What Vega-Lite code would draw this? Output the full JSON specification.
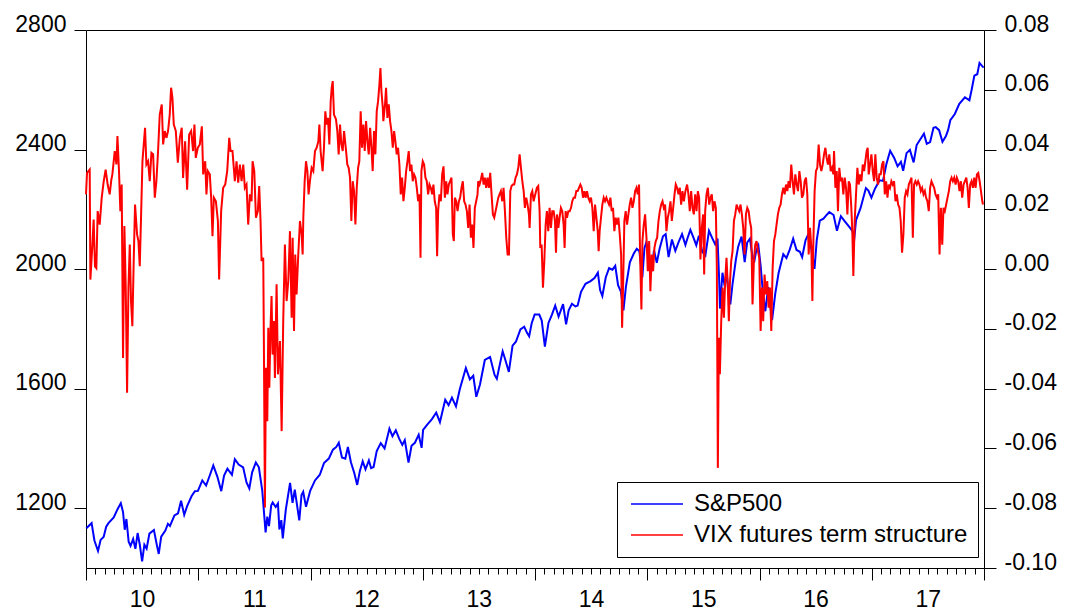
{
"$schema": "https://vega.github.io/schema/vega-lite/v6.json",
"width": 898, "height": 538,
"autosize": {"type": "none"},
"padding": {"left": 86, "top": 30, "right": 81, "bottom": 42},
"background": "white",
"datasets": {
"sp": [
{"t":2010.003,"v":1133},{"t":2010.05,"v":1150},{"t":2010.075,"v":1092},{"t":2010.107,"v":1057},{"t":2010.13,"v":1094},{"t":2010.157,"v":1104},{"t":2010.18,"v":1138},{"t":2010.2,"v":1150},{"t":2010.247,"v":1169},{"t":2010.28,"v":1196},{"t":2010.31,"v":1217},{"t":2010.33,"v":1187},{"t":2010.345,"v":1128},{"t":2010.36,"v":1164},{"t":2010.38,"v":1088},{"t":2010.397,"v":1074},{"t":2010.42,"v":1097},{"t":2010.44,"v":1064},{"t":2010.46,"v":1117},{"t":2010.48,"v":1076},{"t":2010.5,"v":1022},{"t":2010.52,"v":1078},{"t":2010.54,"v":1065},{"t":2010.565,"v":1115},{"t":2010.605,"v":1127},{"t":2010.63,"v":1079},{"t":2010.648,"v":1047},{"t":2010.67,"v":1105},{"t":2010.707,"v":1125},{"t":2010.73,"v":1148},{"t":2010.748,"v":1141},{"t":2010.788,"v":1176},{"t":2010.82,"v":1183},{"t":2010.847,"v":1225},{"t":2010.875,"v":1178},{"t":2010.9,"v":1206},{"t":2010.94,"v":1240},{"t":2010.97,"v":1257},{"t":2010.997,"v":1258},
{"t":2011.036,"v":1293},{"t":2011.07,"v":1276},{"t":2011.1,"v":1307},{"t":2011.134,"v":1343},{"t":2011.17,"v":1306},{"t":2011.205,"v":1257},{"t":2011.23,"v":1309},{"t":2011.26,"v":1332},{"t":2011.3,"v":1312},{"t":2011.326,"v":1364},{"t":2011.36,"v":1346},{"t":2011.4,"v":1337},{"t":2011.43,"v":1286},{"t":2011.455,"v":1266},{"t":2011.48,"v":1320},{"t":2011.513,"v":1353},{"t":2011.54,"v":1337},{"t":2011.57,"v":1260},{"t":2011.6,"v":1119},{"t":2011.615,"v":1172},{"t":2011.63,"v":1140},{"t":2011.65,"v":1210},{"t":2011.663,"v":1219},{"t":2011.69,"v":1204},{"t":2011.71,"v":1216},{"t":2011.723,"v":1129},{"t":2011.74,"v":1160},{"t":2011.753,"v":1099},{"t":2011.78,"v":1195},{"t":2011.818,"v":1285},{"t":2011.84,"v":1218},{"t":2011.86,"v":1262},{"t":2011.9,"v":1159},{"t":2011.92,"v":1244},{"t":2011.935,"v":1255},{"t":2011.96,"v":1205},{"t":2011.997,"v":1258},
{"t":2012.04,"v":1293},{"t":2012.083,"v":1312},{"t":2012.12,"v":1351},{"t":2012.163,"v":1366},{"t":2012.2,"v":1396},{"t":2012.23,"v":1405},{"t":2012.252,"v":1419},{"t":2012.28,"v":1370},{"t":2012.31,"v":1366},{"t":2012.333,"v":1405},{"t":2012.36,"v":1354},{"t":2012.39,"v":1318},{"t":2012.416,"v":1278},{"t":2012.44,"v":1325},{"t":2012.465,"v":1357},{"t":2012.49,"v":1330},{"t":2012.52,"v":1360},{"t":2012.54,"v":1334},{"t":2012.562,"v":1338},{"t":2012.59,"v":1391},{"t":2012.626,"v":1418},{"t":2012.66,"v":1400},{"t":2012.703,"v":1466},{"t":2012.73,"v":1441},{"t":2012.76,"v":1461},{"t":2012.79,"v":1433},{"t":2012.818,"v":1412},{"t":2012.84,"v":1428},{"t":2012.873,"v":1353},{"t":2012.9,"v":1409},{"t":2012.93,"v":1419},{"t":2012.964,"v":1446},{"t":2012.99,"v":1402},
{"t":2013.003,"v":1462},{"t":2013.04,"v":1480},{"t":2013.082,"v":1498},{"t":2013.12,"v":1520},{"t":2013.153,"v":1488},{"t":2013.2,"v":1563},{"t":2013.23,"v":1545},{"t":2013.26,"v":1570},{"t":2013.296,"v":1541},{"t":2013.33,"v":1598},{"t":2013.384,"v":1669},{"t":2013.42,"v":1631},{"t":2013.45,"v":1643},{"t":2013.477,"v":1573},{"t":2013.51,"v":1614},{"t":2013.553,"v":1696},{"t":2013.6,"v":1706},{"t":2013.64,"v":1646},{"t":2013.66,"v":1633},{"t":2013.69,"v":1687},{"t":2013.712,"v":1725},{"t":2013.74,"v":1691},{"t":2013.767,"v":1656},{"t":2013.8,"v":1744},{"t":2013.83,"v":1757},{"t":2013.87,"v":1798},{"t":2013.904,"v":1807},{"t":2013.93,"v":1786},{"t":2013.948,"v":1775},{"t":2013.97,"v":1818},{"t":2013.997,"v":1848},
{"t":2014.038,"v":1848},{"t":2014.06,"v":1828},{"t":2014.088,"v":1741},{"t":2014.12,"v":1820},{"t":2014.15,"v":1847},{"t":2014.18,"v":1878},{"t":2014.21,"v":1841},{"t":2014.25,"v":1883},{"t":2014.277,"v":1815},{"t":2014.3,"v":1862},{"t":2014.329,"v":1884},{"t":2014.36,"v":1875},{"t":2014.38,"v":1878},{"t":2014.41,"v":1924},{"t":2014.45,"v":1951},{"t":2014.495,"v":1960},{"t":2014.53,"v":1970},{"t":2014.56,"v":1988},{"t":2014.58,"v":1930},{"t":2014.6,"v":1910},{"t":2014.63,"v":1972},{"t":2014.66,"v":2003},{"t":2014.69,"v":1998},{"t":2014.715,"v":2011},{"t":2014.74,"v":1946},{"t":2014.765,"v":1925},{"t":2014.788,"v":1862},{"t":2014.81,"v":1941},{"t":2014.845,"v":2023},{"t":2014.88,"v":2052},{"t":2014.907,"v":2068},{"t":2014.93,"v":2060},{"t":2014.956,"v":1972},{"t":2014.975,"v":2070},{"t":2014.992,"v":2090},
{"t":2015.01,"v":2058},{"t":2015.038,"v":1992},{"t":2015.06,"v":2063},{"t":2015.085,"v":2021},{"t":2015.11,"v":2068},{"t":2015.14,"v":2110},{"t":2015.164,"v":2117},{"t":2015.19,"v":2040},{"t":2015.22,"v":2099},{"t":2015.25,"v":2061},{"t":2015.28,"v":2091},{"t":2015.31,"v":2117},{"t":2015.34,"v":2081},{"t":2015.36,"v":2105},{"t":2015.384,"v":2131},{"t":2015.41,"v":2107},{"t":2015.437,"v":2080},{"t":2015.46,"v":2112},{"t":2015.49,"v":2058},{"t":2015.518,"v":2046},{"t":2015.55,"v":2128},{"t":2015.58,"v":2103},{"t":2015.605,"v":2083},{"t":2015.626,"v":2102},{"t":2015.64,"v":1971},{"t":2015.648,"v":1868},{"t":2015.67,"v":1988},{"t":2015.69,"v":1942},{"t":2015.707,"v":1996},{"t":2015.72,"v":1932},{"t":2015.74,"v":1882},{"t":2015.76,"v":1951},{"t":2015.79,"v":2033},{"t":2015.81,"v":2075},{"t":2015.84,"v":2109},{"t":2015.868,"v":2023},{"t":2015.89,"v":2089},{"t":2015.915,"v":2102},{"t":2015.935,"v":2047},{"t":2015.952,"v":2022},{"t":2015.97,"v":2060},{"t":2015.99,"v":2078},
{"t":2016.01,"v":2012},{"t":2016.03,"v":1922},{"t":2016.052,"v":1859},{"t":2016.077,"v":1940},{"t":2016.095,"v":1880},{"t":2016.112,"v":1829},{"t":2016.14,"v":1917},{"t":2016.17,"v":1987},{"t":2016.212,"v":2050},{"t":2016.24,"v":2037},{"t":2016.27,"v":2066},{"t":2016.3,"v":2102},{"t":2016.33,"v":2064},{"t":2016.36,"v":2058},{"t":2016.38,"v":2040},{"t":2016.41,"v":2096},{"t":2016.438,"v":2119},{"t":2016.46,"v":2071},{"t":2016.475,"v":2037},{"t":2016.49,"v":2001},{"t":2016.51,"v":2097},{"t":2016.537,"v":2162},{"t":2016.57,"v":2169},{"t":2016.6,"v":2182},{"t":2016.622,"v":2191},{"t":2016.66,"v":2181},{"t":2016.69,"v":2128},{"t":2016.725,"v":2177},{"t":2016.76,"v":2160},{"t":2016.8,"v":2141},{"t":2016.83,"v":2126},{"t":2016.84,"v":2085},{"t":2016.86,"v":2164},{"t":2016.9,"v":2204},{"t":2016.948,"v":2271},{"t":2016.97,"v":2263},{"t":2016.997,"v":2239},
{"t":2017.03,"v":2270},{"t":2017.07,"v":2297},{"t":2017.1,"v":2295},{"t":2017.13,"v":2351},{"t":2017.164,"v":2396},{"t":2017.2,"v":2372},{"t":2017.23,"v":2344},{"t":2017.26,"v":2359},{"t":2017.28,"v":2329},{"t":2017.31,"v":2388},{"t":2017.34,"v":2399},{"t":2017.373,"v":2357},{"t":2017.4,"v":2415},{"t":2017.43,"v":2433},{"t":2017.465,"v":2453},{"t":2017.49,"v":2419},{"t":2017.52,"v":2425},{"t":2017.55,"v":2473},{"t":2017.57,"v":2475},{"t":2017.6,"v":2465},{"t":2017.63,"v":2426},{"t":2017.66,"v":2444},{"t":2017.68,"v":2465},{"t":2017.7,"v":2498},{"t":2017.74,"v":2519},{"t":2017.78,"v":2553},{"t":2017.83,"v":2575},{"t":2017.87,"v":2565},{"t":2017.89,"v":2600},{"t":2017.914,"v":2647},{"t":2017.94,"v":2652},{"t":2017.96,"v":2690},{"t":2017.98,"v":2681},{"t":2017.997,"v":2674}
],
"vix": [
{"t":2010.000,"v":0.0250},{"t":2010.009,"v":0.0322},{"t":2010.033,"v":0.0333},{"t":2010.039,"v":-0.0035},{"t":2010.057,"v":0.0082},{"t":2010.068,"v":0.0166},{"t":2010.080,"v":0.0009},{"t":2010.092,"v":0.0003},{"t":2010.104,"v":0.0194},{"t":2010.122,"v":0.0149},{"t":2010.140,"v":0.0239},{"t":2010.158,"v":0.0294},{"t":2010.175,"v":0.0333},{"t":2010.193,"v":0.0283},{"t":2010.211,"v":0.0250},{"t":2010.226,"v":0.0300},{"t":2010.235,"v":0.0317},{"t":2010.256,"v":0.0395},{"t":2010.271,"v":0.0350},{"t":2010.280,"v":0.0445},{"t":2010.294,"v":0.0328},{"t":2010.306,"v":0.0194},{"t":2010.318,"v":0.0283},{"t":2010.330,"v":-0.0297},{"t":2010.342,"v":0.0144},{"t":2010.354,"v":-0.0062},{"t":2010.366,"v":-0.0414},{"t":2010.378,"v":-0.0062},{"t":2010.390,"v":0.0082},{"t":2010.401,"v":-0.0107},{"t":2010.413,"v":-0.0191},{"t":2010.425,"v":0.0027},{"t":2010.437,"v":0.0216},{"t":2010.455,"v":0.0116},{"t":2010.467,"v":0.0094},{"t":2010.479,"v":0.0010},{"t":2010.491,"v":0.0183},{"t":2010.503,"v":0.0361},{"t":2010.526,"v":0.0473},{"t":2010.538,"v":0.0350},{"t":2010.553,"v":0.0361},{"t":2010.568,"v":0.0294},{"t":2010.583,"v":0.0389},{"t":2010.598,"v":0.0384},{"t":2010.613,"v":0.0239},{"t":2010.627,"v":0.0294},{"t":2010.642,"v":0.0395},{"t":2010.657,"v":0.0517},{"t":2010.675,"v":0.0551},{"t":2010.687,"v":0.0417},{"t":2010.702,"v":0.0462},{"t":2010.717,"v":0.0439},{"t":2010.731,"v":0.0462},{"t":2010.746,"v":0.0517},{"t":2010.758,"v":0.0607},{"t":2010.770,"v":0.0573},{"t":2010.782,"v":0.0484},{"t":2010.800,"v":0.0462},{"t":2010.818,"v":0.0356},{"t":2010.836,"v":0.0439},{"t":2010.853,"v":0.0473},{"t":2010.865,"v":0.0305},{"t":2010.883,"v":0.0428},{"t":2010.901,"v":0.0266},{"t":2010.919,"v":0.0450},{"t":2010.937,"v":0.0462},{"t":2010.954,"v":0.0395},{"t":2010.966,"v":0.0484},{"t":2010.978,"v":0.0372},{"t":2010.996,"v":0.0406},
{"t":2011.014,"v":0.0417},{"t":2011.032,"v":0.0478},{"t":2011.044,"v":0.0317},{"t":2011.062,"v":0.0361},{"t":2011.073,"v":0.0250},{"t":2011.085,"v":0.0328},{"t":2011.103,"v":0.0317},{"t":2011.115,"v":0.0239},{"t":2011.127,"v":0.0110},{"t":2011.139,"v":0.0239},{"t":2011.157,"v":0.0227},{"t":2011.175,"v":0.0161},{"t":2011.186,"v":-0.0035},{"t":2011.204,"v":0.0194},{"t":2011.222,"v":0.0272},{"t":2011.240,"v":0.0283},{"t":2011.258,"v":0.0328},{"t":2011.276,"v":0.0439},{"t":2011.288,"v":0.0395},{"t":2011.305,"v":0.0395},
{"t":2011.326,"v":0.0294},{"t":2011.341,"v":0.0361},{"t":2011.356,"v":0.0289},{"t":2011.371,"v":0.0350},{"t":2011.386,"v":0.0294},{"t":2011.401,"v":0.0350},{"t":2011.415,"v":0.0272},{"t":2011.430,"v":0.0283},{"t":2011.445,"v":0.0149},{"t":2011.460,"v":0.0250},{"t":2011.475,"v":0.0227},{"t":2011.484,"v":0.0361},{"t":2011.499,"v":0.0328},{"t":2011.514,"v":0.0172},{"t":2011.531,"v":0.0194},{"t":2011.543,"v":0.0278},{"t":2011.555,"v":0.0161},{"t":2011.564,"v":0.0027},{"t":2011.579,"v":0.0038},{"t":2011.585,"v":-0.0263},{"t":2011.594,"v":-0.0798},{"t":2011.603,"v":-0.0330},{"t":2011.615,"v":-0.0509},{"t":2011.624,"v":-0.0196},{"t":2011.633,"v":-0.0397},{"t":2011.644,"v":-0.0196},{"t":2011.653,"v":-0.0090},{"t":2011.662,"v":-0.0286},{"t":2011.674,"v":-0.0174},{"t":2011.683,"v":-0.0364},{"t":2011.698,"v":-0.0051},{"t":2011.710,"v":-0.0352},{"t":2011.728,"v":-0.0241},{"t":2011.743,"v":-0.0542},{"t":2011.757,"v":-0.0174},{"t":2011.772,"v":0.0082},{"t":2011.787,"v":-0.0107},{"t":2011.802,"v":-0.0040},{"t":2011.817,"v":0.0127},{"t":2011.832,"v":-0.0163},{"t":2011.841,"v":0.0105},{"t":2011.853,"v":-0.0207},{"t":2011.864,"v":0.0049},{"t":2011.876,"v":-0.0085},{"t":2011.891,"v":0.0049},{"t":2011.906,"v":0.0161},{"t":2011.921,"v":0.0116},{"t":2011.930,"v":0.0049},{"t":2011.936,"v":0.0172},{"t":2011.948,"v":0.0294},{"t":2011.960,"v":0.0361},{"t":2011.972,"v":0.0328},{"t":2011.983,"v":0.0250},{"t":2011.995,"v":0.0294},
{"t":2012.010,"v":0.0339},{"t":2012.025,"v":0.0328},{"t":2012.040,"v":0.0395},{"t":2012.055,"v":0.0406},{"t":2012.070,"v":0.0428},{"t":2012.079,"v":0.0484},{"t":2012.090,"v":0.0395},{"t":2012.108,"v":0.0328},{"t":2012.120,"v":0.0406},{"t":2012.132,"v":0.0528},{"t":2012.144,"v":0.0484},{"t":2012.156,"v":0.0506},{"t":2012.168,"v":0.0417},{"t":2012.180,"v":0.0562},{"t":2012.189,"v":0.0607},{"t":2012.198,"v":0.0629},{"t":2012.209,"v":0.0517},{"t":2012.227,"v":0.0501},{"t":2012.239,"v":0.0462},{"t":2012.251,"v":0.0384},{"t":2012.263,"v":0.0484},{"t":2012.275,"v":0.0417},{"t":2012.287,"v":0.0395},{"t":2012.299,"v":0.0462},{"t":2012.317,"v":0.0395},{"t":2012.328,"v":0.0350},{"t":2012.340,"v":0.0339},{"t":2012.352,"v":0.0306},{"t":2012.364,"v":0.0161},{"t":2012.376,"v":0.0294},{"t":2012.388,"v":0.0261},{"t":2012.400,"v":0.0149},{"t":2012.412,"v":0.0272},{"t":2012.424,"v":0.0339},{"t":2012.435,"v":0.0361},{"t":2012.447,"v":0.0528},{"t":2012.459,"v":0.0406},{"t":2012.471,"v":0.0484},{"t":2012.483,"v":0.0395},{"t":2012.495,"v":0.0495},{"t":2012.507,"v":0.0428},{"t":2012.519,"v":0.0384},{"t":2012.531,"v":0.0473},{"t":2012.543,"v":0.0406},{"t":2012.554,"v":0.0328},{"t":2012.566,"v":0.0462},{"t":2012.578,"v":0.0384},{"t":2012.590,"v":0.0528},{"t":2012.602,"v":0.0562},{"t":2012.614,"v":0.0618},{"t":2012.623,"v":0.0673},{"t":2012.632,"v":0.0595},{"t":2012.644,"v":0.0540},
{"t":2012.649,"v":0.0495},{"t":2012.664,"v":0.0551},{"t":2012.673,"v":0.0607},{"t":2012.685,"v":0.0506},{"t":2012.697,"v":0.0551},{"t":2012.709,"v":0.0495},{"t":2012.721,"v":0.0462},{"t":2012.733,"v":0.0406},{"t":2012.745,"v":0.0462},{"t":2012.756,"v":0.0428},{"t":2012.768,"v":0.0384},{"t":2012.780,"v":0.0406},{"t":2012.792,"v":0.0350},{"t":2012.804,"v":0.0250},{"t":2012.816,"v":0.0306},{"t":2012.828,"v":0.0227},{"t":2012.840,"v":0.0272},{"t":2012.852,"v":0.0328},{"t":2012.864,"v":0.0361},{"t":2012.875,"v":0.0395},{"t":2012.887,"v":0.0328},{"t":2012.899,"v":0.0350},{"t":2012.911,"v":0.0294},{"t":2012.923,"v":0.0317},{"t":2012.935,"v":0.0306},{"t":2012.947,"v":0.0272},{"t":2012.959,"v":0.0227},{"t":2012.971,"v":0.0250},{"t":2012.980,"v":0.0038},{"t":2012.988,"v":0.0328},
{"t":2013.000,"v":0.0361},{"t":2013.012,"v":0.0350},{"t":2013.024,"v":0.0306},{"t":2013.036,"v":0.0294},{"t":2013.048,"v":0.0250},{"t":2013.060,"v":0.0283},{"t":2013.072,"v":0.0272},{"t":2013.084,"v":0.0250},{"t":2013.095,"v":0.0283},{"t":2013.107,"v":0.0227},{"t":2013.119,"v":0.0205},{"t":2013.128,"v":0.0043},{"t":2013.137,"v":0.0194},{"t":2013.149,"v":0.0250},{"t":2013.161,"v":0.0227},{"t":2013.173,"v":0.0317},{"t":2013.185,"v":0.0344},{"t":2013.197,"v":0.0239},{"t":2013.209,"v":0.0294},{"t":2013.220,"v":0.0250},{"t":2013.232,"v":0.0283},{"t":2013.244,"v":0.0294},{"t":2013.256,"v":0.0306},{"t":2013.268,"v":0.0116},{"t":2013.277,"v":0.0094},{"t":2013.286,"v":0.0239},{"t":2013.298,"v":0.0227},{"t":2013.310,"v":0.0194},{"t":2013.322,"v":0.0227},{"t":2013.333,"v":0.0239},{"t":2013.345,"v":0.0272},{"t":2013.357,"v":0.0294},{"t":2013.369,"v":0.0227},{"t":2013.381,"v":0.0216},{"t":2013.393,"v":0.0194},{"t":2013.405,"v":0.0138},{"t":2013.417,"v":0.0216},{"t":2013.429,"v":0.0105},{"t":2013.440,"v":0.0149},{"t":2013.452,"v":0.0071},{"t":2013.464,"v":0.0205},{"t":2013.476,"v":0.0227},{"t":2013.488,"v":0.0250},{"t":2013.494,"v":0.0294},{"t":2013.506,"v":0.0283},{"t":2013.518,"v":0.0300},{"t":2013.530,"v":0.0322},{"t":2013.542,"v":0.0283},{"t":2013.553,"v":0.0306},{"t":2013.565,"v":0.0272},{"t":2013.577,"v":0.0306},{"t":2013.589,"v":0.0272},{"t":2013.601,"v":0.0322},{"t":2013.613,"v":0.0250},{"t":2013.625,"v":0.0183},{"t":2013.637,"v":0.0172},{"t":2013.649,"v":0.0194},{"t":2013.661,"v":0.0216},{"t":2013.673,"v":0.0239},{"t":2013.684,"v":0.0250},{"t":2013.696,"v":0.0261},{"t":2013.708,"v":0.0227},{"t":2013.720,"v":0.0272},{"t":2013.732,"v":0.0194},{"t":2013.744,"v":0.0105},{"t":2013.756,"v":0.0049},{"t":2013.768,"v":0.0049},{"t":2013.780,"v":0.0261},{"t":2013.791,"v":0.0278},{"t":2013.803,"v":0.0283},{"t":2013.815,"v":0.0283},{"t":2013.827,"v":0.0306},{"t":2013.839,"v":0.0317},{"t":2013.851,"v":0.0339},{"t":2013.863,"v":0.0384},{"t":2013.875,"v":0.0339},{"t":2013.887,"v":0.0294},{"t":2013.899,"v":0.0261},{"t":2013.910,"v":0.0205},{"t":2013.922,"v":0.0239},{"t":2013.934,"v":0.0216},{"t":2013.946,"v":0.0183},{"t":2013.952,"v":0.0138},{"t":2013.964,"v":0.0250},{"t":2013.976,"v":0.0261},{"t":2013.988,"v":0.0227},
{"t":2014.002,"v":0.0250},{"t":2014.017,"v":0.0272},{"t":2014.029,"v":0.0278},{"t":2014.041,"v":0.0194},{"t":2014.047,"v":0.0071},{"t":2014.059,"v":0.0082},{"t":2014.071,"v":-0.0062},{"t":2014.083,"v":0.0027},{"t":2014.095,"v":0.0149},{"t":2014.106,"v":0.0194},{"t":2014.118,"v":0.0127},{"t":2014.130,"v":0.0205},{"t":2014.142,"v":0.0138},{"t":2014.154,"v":0.0194},{"t":2014.166,"v":0.0194},{"t":2014.178,"v":0.0161},{"t":2014.187,"v":0.0055},{"t":2014.196,"v":0.0183},{"t":2014.208,"v":0.0138},{"t":2014.219,"v":0.0172},{"t":2014.231,"v":0.0205},{"t":2014.243,"v":0.0194},{"t":2014.255,"v":0.0149},{"t":2014.264,"v":0.0071},{"t":2014.273,"v":0.0194},{"t":2014.285,"v":0.0172},{"t":2014.297,"v":0.0194},{"t":2014.309,"v":0.0194},{"t":2014.321,"v":0.0205},{"t":2014.332,"v":0.0227},{"t":2014.344,"v":0.0239},{"t":2014.356,"v":0.0239},{"t":2014.368,"v":0.0261},{"t":2014.380,"v":0.0261},{"t":2014.392,"v":0.0272},{"t":2014.404,"v":0.0283},{"t":2014.416,"v":0.0272},{"t":2014.428,"v":0.0239},{"t":2014.440,"v":0.0261},{"t":2014.451,"v":0.0239},{"t":2014.463,"v":0.0261},{"t":2014.475,"v":0.0239},{"t":2014.487,"v":0.0227},{"t":2014.499,"v":0.0239},{"t":2014.511,"v":0.0205},{"t":2014.523,"v":0.0127},{"t":2014.535,"v":0.0216},{"t":2014.547,"v":0.0172},{"t":2014.559,"v":0.0127},{"t":2014.567,"v":0.0060},{"t":2014.576,"v":0.0127},{"t":2014.588,"v":0.0172},{"t":2014.600,"v":0.0216},{"t":2014.612,"v":0.0239},{"t":2014.624,"v":0.0227},{"t":2014.636,"v":0.0239},{"t":2014.648,"v":0.0227},{"t":2014.660,"v":0.0216},{"t":2014.672,"v":0.0239},{"t":2014.683,"v":0.0194},{"t":2014.695,"v":0.0205},{"t":2014.707,"v":0.0127},{"t":2014.719,"v":0.0172},{"t":2014.731,"v":0.0149},{"t":2014.743,"v":0.0172},{"t":2014.755,"v":0.0116},{"t":2014.767,"v":0.0049},{"t":2014.776,"v":-0.0196},{"t":2014.785,"v":-0.0051},{"t":2014.796,"v":0.0161},{"t":2014.808,"v":0.0194},{"t":2014.820,"v":0.0149},{"t":2014.832,"v":0.0183},{"t":2014.844,"v":0.0216},{"t":2014.856,"v":0.0239},{"t":2014.868,"v":0.0205},{"t":2014.880,"v":0.0227},{"t":2014.892,"v":0.0261},{"t":2014.904,"v":0.0272},{"t":2014.915,"v":0.0250},{"t":2014.927,"v":0.0283},{"t":2014.936,"v":0.0049},{"t":2014.948,"v":-0.0135},{"t":2014.957,"v":0.0094},{"t":2014.969,"v":0.0149},{"t":2014.981,"v":0.0183},{"t":2014.993,"v":0.0105},
{"t":2015.005,"v":-0.0007},{"t":2015.017,"v":0.0094},{"t":2015.028,"v":-0.0074},{"t":2015.040,"v":0.0049},{"t":2015.052,"v":-0.0007},{"t":2015.064,"v":0.0071},{"t":2015.076,"v":0.0094},{"t":2015.088,"v":0.0105},{"t":2015.100,"v":0.0161},{"t":2015.112,"v":0.0194},{"t":2015.124,"v":0.0216},{"t":2015.136,"v":0.0227},{"t":2015.147,"v":0.0205},{"t":2015.159,"v":0.0216},{"t":2015.171,"v":0.0127},{"t":2015.183,"v":0.0172},{"t":2015.195,"v":0.0194},{"t":2015.207,"v":0.0227},{"t":2015.219,"v":0.0161},{"t":2015.231,"v":0.0205},{"t":2015.243,"v":0.0250},{"t":2015.254,"v":0.0283},{"t":2015.266,"v":0.0272},{"t":2015.278,"v":0.0250},{"t":2015.290,"v":0.0272},{"t":2015.302,"v":0.0216},{"t":2015.314,"v":0.0261},
{"t":2015.326,"v":0.0227},{"t":2015.340,"v":0.0261},{"t":2015.355,"v":0.0283},{"t":2015.367,"v":0.0250},{"t":2015.379,"v":0.0194},{"t":2015.391,"v":0.0261},{"t":2015.403,"v":0.0205},{"t":2015.415,"v":0.0183},{"t":2015.427,"v":0.0250},{"t":2015.439,"v":0.0194},{"t":2015.451,"v":0.0261},{"t":2015.462,"v":0.0239},{"t":2015.474,"v":0.0032},{"t":2015.486,"v":0.0138},{"t":2015.498,"v":0.0183},{"t":2015.507,"v":-0.0018},{"t":2015.516,"v":0.0194},{"t":2015.528,"v":0.0250},{"t":2015.540,"v":0.0272},{"t":2015.552,"v":0.0216},{"t":2015.564,"v":0.0239},{"t":2015.575,"v":0.0250},{"t":2015.587,"v":0.0194},{"t":2015.599,"v":0.0227},{"t":2015.611,"v":0.0205},{"t":2015.620,"v":0.0004},{"t":2015.629,"v":-0.0665},{"t":2015.638,"v":-0.0230},{"t":2015.647,"v":-0.0352},{"t":2015.659,"v":-0.0174},{"t":2015.671,"v":-0.0062},{"t":2015.683,"v":-0.0163},{"t":2015.694,"v":-0.0040},{"t":2015.706,"v":0.0038},{"t":2015.718,"v":-0.0062},{"t":2015.727,"v":-0.0174},{"t":2015.736,"v":-0.0051},{"t":2015.748,"v":0.0027},{"t":2015.760,"v":0.0060},{"t":2015.772,"v":0.0161},{"t":2015.784,"v":0.0183},{"t":2015.796,"v":0.0216},{"t":2015.807,"v":0.0205},{"t":2015.819,"v":0.0194},{"t":2015.831,"v":0.0216},{"t":2015.843,"v":0.0183},{"t":2015.855,"v":0.0138},{"t":2015.867,"v":0.0049},{"t":2015.879,"v":0.0183},{"t":2015.891,"v":0.0205},{"t":2015.903,"v":0.0194},{"t":2015.914,"v":0.0161},{"t":2015.926,"v":0.0138},{"t":2015.938,"v":-0.0118},{"t":2015.950,"v":0.0027},{"t":2015.962,"v":0.0082},{"t":2015.974,"v":0.0094},{"t":2015.986,"v":0.0060},{"t":2015.998,"v":0.0038},
{"t":2016.010,"v":-0.0207},{"t":2016.022,"v":-0.0062},{"t":2016.033,"v":-0.0174},{"t":2016.045,"v":-0.0018},{"t":2016.057,"v":-0.0085},{"t":2016.069,"v":-0.0040},{"t":2016.081,"v":-0.0129},{"t":2016.093,"v":-0.0062},{"t":2016.105,"v":-0.0207},{"t":2016.117,"v":0.0004},{"t":2016.129,"v":0.0094},{"t":2016.141,"v":0.0116},{"t":2016.152,"v":0.0149},{"t":2016.164,"v":0.0183},{"t":2016.176,"v":0.0205},{"t":2016.188,"v":0.0216},{"t":2016.200,"v":0.0250},{"t":2016.212,"v":0.0272},{"t":2016.224,"v":0.0250},{"t":2016.236,"v":0.0283},{"t":2016.248,"v":0.0261},{"t":2016.259,"v":0.0294},{"t":2016.271,"v":0.0272},{"t":2016.283,"v":0.0350},{"t":2016.295,"v":0.0294},{"t":2016.307,"v":0.0250},{"t":2016.319,"v":0.0317},{"t":2016.331,"v":0.0283},{"t":2016.343,"v":0.0261},{"t":2016.355,"v":0.0328},{"t":2016.367,"v":0.0294},{"t":2016.378,"v":0.0239},{"t":2016.390,"v":0.0250},{"t":2016.402,"v":0.0294},{"t":2016.414,"v":0.0306},{"t":2016.426,"v":0.0250},{"t":2016.438,"v":0.0049},{"t":2016.450,"v":0.0138},{"t":2016.462,"v":0.0071},{"t":2016.471,"v":-0.0107},{"t":2016.480,"v":0.0094},{"t":2016.491,"v":0.0261},{"t":2016.503,"v":0.0328},{"t":2016.515,"v":0.0339},{"t":2016.527,"v":0.0417},{"t":2016.539,"v":0.0350},{"t":2016.551,"v":0.0328},{"t":2016.563,"v":0.0350},{"t":2016.575,"v":0.0384},{"t":2016.587,"v":0.0406},{"t":2016.598,"v":0.0372},{"t":2016.610,"v":0.0350},{"t":2016.622,"v":0.0384},{"t":2016.634,"v":0.0328},{"t":2016.646,"v":0.0339},{"t":2016.658,"v":0.0317},
{"t":2016.664,"v":0.0395},{"t":2016.676,"v":0.0272},{"t":2016.688,"v":0.0328},{"t":2016.699,"v":0.0194},{"t":2016.711,"v":0.0339},{"t":2016.723,"v":0.0294},{"t":2016.735,"v":0.0306},{"t":2016.747,"v":0.0250},{"t":2016.759,"v":0.0306},{"t":2016.771,"v":0.0272},{"t":2016.783,"v":0.0183},{"t":2016.795,"v":0.0294},{"t":2016.806,"v":0.0283},{"t":2016.818,"v":0.0205},{"t":2016.827,"v":0.0127},{"t":2016.836,"v":-0.0023},{"t":2016.848,"v":0.0161},{"t":2016.860,"v":0.0250},{"t":2016.872,"v":0.0339},{"t":2016.884,"v":0.0283},{"t":2016.896,"v":0.0317},{"t":2016.908,"v":0.0294},{"t":2016.920,"v":0.0350},{"t":2016.932,"v":0.0328},{"t":2016.943,"v":0.0361},{"t":2016.955,"v":0.0395},{"t":2016.964,"v":0.0406},{"t":2016.973,"v":0.0317},{"t":2016.985,"v":0.0350},{"t":2016.997,"v":0.0384},
{"t":2017.009,"v":0.0328},{"t":2017.021,"v":0.0294},{"t":2017.032,"v":0.0384},{"t":2017.044,"v":0.0306},{"t":2017.056,"v":0.0283},{"t":2017.068,"v":0.0317},{"t":2017.080,"v":0.0317},{"t":2017.092,"v":0.0350},{"t":2017.104,"v":0.0361},{"t":2017.116,"v":0.0250},{"t":2017.128,"v":0.0294},{"t":2017.140,"v":0.0239},{"t":2017.151,"v":0.0283},{"t":2017.163,"v":0.0272},{"t":2017.175,"v":0.0294},{"t":2017.187,"v":0.0283},{"t":2017.199,"v":0.0294},{"t":2017.211,"v":0.0227},{"t":2017.223,"v":0.0250},{"t":2017.235,"v":0.0216},{"t":2017.247,"v":0.0205},{"t":2017.258,"v":0.0161},{"t":2017.270,"v":0.0055},{"t":2017.282,"v":0.0116},{"t":2017.294,"v":0.0239},{"t":2017.306,"v":0.0261},{"t":2017.318,"v":0.0250},{"t":2017.330,"v":0.0283},{"t":2017.342,"v":0.0294},{"t":2017.354,"v":0.0306},{"t":2017.366,"v":0.0105},{"t":2017.377,"v":0.0283},{"t":2017.389,"v":0.0294},{"t":2017.401,"v":0.0283},{"t":2017.413,"v":0.0294},{"t":2017.425,"v":0.0283},{"t":2017.437,"v":0.0261},{"t":2017.449,"v":0.0272},{"t":2017.461,"v":0.0250},{"t":2017.473,"v":0.0261},{"t":2017.484,"v":0.0239},{"t":2017.496,"v":0.0227},{"t":2017.508,"v":0.0194},{"t":2017.520,"v":0.0272},{"t":2017.532,"v":0.0294},{"t":2017.544,"v":0.0283},{"t":2017.556,"v":0.0272},{"t":2017.568,"v":0.0250},{"t":2017.580,"v":0.0239},{"t":2017.592,"v":0.0250},{"t":2017.604,"v":0.0049},{"t":2017.616,"v":0.0205},{"t":2017.628,"v":0.0082},{"t":2017.639,"v":0.0205},{"t":2017.651,"v":0.0194},{"t":2017.663,"v":0.0216},{"t":2017.675,"v":0.0239},{"t":2017.687,"v":0.0261},{"t":2017.699,"v":0.0294},{"t":2017.711,"v":0.0306},{"t":2017.723,"v":0.0294},{"t":2017.735,"v":0.0306},{"t":2017.747,"v":0.0283},{"t":2017.758,"v":0.0306},{"t":2017.770,"v":0.0294},{"t":2017.782,"v":0.0261},{"t":2017.794,"v":0.0294},{"t":2017.806,"v":0.0239},{"t":2017.818,"v":0.0283},{"t":2017.830,"v":0.0294},{"t":2017.842,"v":0.0306},{"t":2017.854,"v":0.0272},{"t":2017.865,"v":0.0205},{"t":2017.877,"v":0.0283},{"t":2017.889,"v":0.0294},{"t":2017.901,"v":0.0272},{"t":2017.913,"v":0.0306},{"t":2017.925,"v":0.0272},{"t":2017.937,"v":0.0317},{"t":2017.949,"v":0.0322},{"t":2017.961,"v":0.0294},{"t":2017.973,"v":0.0261},{"t":2017.985,"v":0.0227},{"t":2017.991,"v":0.0216}
]
},
"layer": [
{
"data": {"name": "sp"},
"mark": {"type": "line", "strokeWidth": 2},
"encoding": {
"x": {"field": "t", "type": "quantitative", "title": null,
"scale": {"domain": [2010, 2018], "nice": false, "zero": false},
"axis": {"orient": "bottom", "tickCount": 200,
"values": [2010,2010.0833,2010.1667,2010.25,2010.3333,2010.4167,2010.5,2010.5833,2010.6667,2010.75,2010.8333,2010.9167,2011,2011.0833,2011.1667,2011.25,2011.3333,2011.4167,2011.5,2011.5833,2011.6667,2011.75,2011.8333,2011.9167,2012,2012.0833,2012.1667,2012.25,2012.3333,2012.4167,2012.5,2012.5833,2012.6667,2012.75,2012.8333,2012.9167,2013,2013.0833,2013.1667,2013.25,2013.3333,2013.4167,2013.5,2013.5833,2013.6667,2013.75,2013.8333,2013.9167,2014,2014.0833,2014.1667,2014.25,2014.3333,2014.4167,2014.5,2014.5833,2014.6667,2014.75,2014.8333,2014.9167,2015,2015.0833,2015.1667,2015.25,2015.3333,2015.4167,2015.5,2015.5833,2015.6667,2015.75,2015.8333,2015.9167,2016,2016.0833,2016.1667,2016.25,2016.3333,2016.4167,2016.5,2016.5833,2016.6667,2016.75,2016.8333,2016.9167,2017,2017.0833,2017.1667,2017.25,2017.3333,2017.4167,2017.5,2017.5833,2017.6667,2017.75,2017.8333,2017.9167,2018],
"labelExpr": "abs(datum.value - floor(datum.value) - 0.5) < 0.01 ? format(floor(datum.value) - 2000, 'd') : ''",
"tickSize": {"condition": {"test": "abs(datum.value - round(datum.value)) < 0.01", "value": 12}, "value": 6},
"labelPadding": 14, "labelFlush": false, "labelOverlap": false, "labelBound": false}},
"y": {"field": "v", "type": "quantitative", "title": null,
"scale": {"domain": [1000, 2800], "nice": false, "zero": false},
"axis": {"orient": "left", "values": [1200,1600,2000,2400,2800], "format": "d", "tickSize": 12, "labelPadding": 8, "labelOffset": -6, "labelFlush": false}},
"color": {"datum": "S&P500", "type": "nominal",
"scale": {"domain": ["S&P500", "VIX futures term structure"], "range": ["#0000ff", "#ff0000"]},
"legend": {"orient": "none", "legendX": 531, "legendY": 452, "title": null, "direction": "vertical",
"symbolType": "M-2.6,0H2.6", "symbolSize": 400, "symbolStrokeWidth": 1.5, "symbolOffset": 18, "labelOffset": 25,
"labelFont": "Liberation Sans", "labelFontSize": 24, "labelColor": "#000000", "labelLimit": 500,
"padding": 10, "rowPadding": 7, "strokeColor": "#000000", "fillColor": "#ffffff"}}
}
},
{
"data": {"name": "vix"},
"mark": {"type": "line", "strokeWidth": 2},
"encoding": {
"x": {"field": "t", "type": "quantitative"},
"y": {"field": "v", "type": "quantitative", "title": null,
"scale": {"domain": [-0.1, 0.08], "nice": false, "zero": false},
"axis": {"orient": "right", "values": [-0.1,-0.08,-0.06,-0.04,-0.02,0,0.02,0.04,0.06,0.08],
"labelExpr": "replace(format(datum.value, '.2f'), '\u2212', '-')",
"tickSize": 12, "labelPadding": 8, "labelOffset": -6, "labelFlush": false}},
"color": {"datum": "VIX futures term structure", "type": "nominal"}
}
}
],
"resolve": {"scale": {"y": "independent"}},
"config": {
"view": {"stroke": "#000000", "strokeWidth": 1},
"axis": {"labelFont": "Liberation Sans", "labelFontSize": 23, "labelColor": "#000000", "tickColor": "#000000", "tickWidth": 1, "domain": false, "grid": false}
}
}
